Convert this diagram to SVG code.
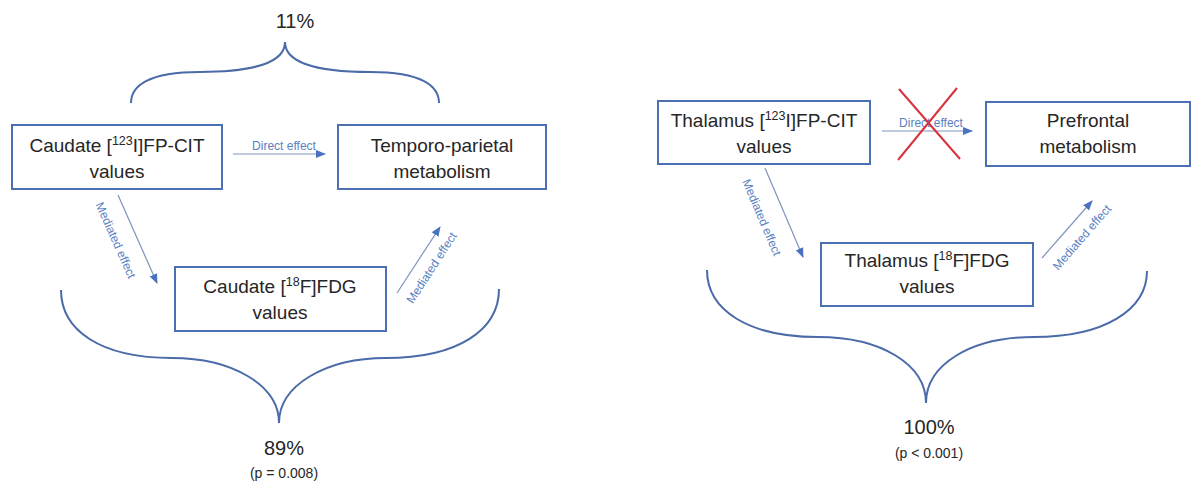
<svg xmlns="http://www.w3.org/2000/svg" width="1197" height="483" viewBox="0 0 1197 483">
<style>
.box{fill:#ffffff;stroke:#4a6fb3;stroke-width:2}
.t{font-family:"Liberation Sans",Arial,sans-serif;font-size:19px;fill:#262626;text-anchor:middle}
.sup{font-size:12.5px}
.pct{font-family:"Liberation Sans",Arial,sans-serif;font-size:20px;fill:#262626;text-anchor:middle}
.p{font-family:"Liberation Sans",Arial,sans-serif;font-size:14px;fill:#262626;text-anchor:middle}
.lbl{font-family:"Liberation Sans",Arial,sans-serif;font-size:12px;fill:#5b7fc2;text-anchor:middle}
.brace{fill:none;stroke:#4a6aa8;stroke-width:2}
.arr{fill:none;stroke:#7d93bd;stroke-width:1.2;marker-end:url(#ah)}
.cross{stroke:#d8323e;stroke-width:2;fill:none}
</style>
<defs>
<marker id="ah" markerUnits="userSpaceOnUse" markerWidth="10" markerHeight="10" viewBox="0 0 10 10" refX="9" refY="5" orient="auto">
<path d="M0,1 L10,5 L0,9 Z" fill="#4a72c0"/>
</marker>
</defs>

<g id="braces">
<path class="brace" d="M131,103 C131,86 148,72 200,72 C255,72 285,62 285,42 C285,62 315,72 370,72 C422,72 439,86 439,103"/>
<path class="brace" d="M61,290 C61,330 100,358 172,358 C232,358 279,385 279,423 C279,385 326,358 386,358 C458,358 499,330 499,289"/>
<path class="brace" d="M707,270 C707,310 748,337 818,337 C882,337 926,365 926,403 C926,365 970,337 1034,337 C1104,337 1147,310 1147,271"/>
</g>

<g id="connectors">
<line class="arr" x1="233" y1="154" x2="325" y2="154"/>
<line class="arr" x1="118" y1="195" x2="157" y2="283"/>
<line class="arr" x1="397" y1="293" x2="440" y2="227"/>
<line class="arr" x1="882" y1="131" x2="972" y2="131"/>
<line class="arr" x1="765" y1="168" x2="803" y2="257"/>
<line class="arr" x1="1042" y1="258" x2="1092" y2="201"/>
<text class="lbl" x="284" y="150">Direct effect</text>
<text class="lbl" transform="translate(112,242) rotate(66)">Mediated effect</text>
<text class="lbl" transform="translate(435,270) rotate(-57)">Mediated effect</text>
<text class="lbl" x="931" y="127">Direct effect</text>
<text class="lbl" transform="translate(758,219) rotate(67)">Mediated effect</text>
<text class="lbl" transform="translate(1085,240) rotate(-49)">Mediated effect</text>
<line class="cross" x1="899" y1="89" x2="960" y2="159"/>
<line class="cross" x1="957" y1="88" x2="898" y2="160"/>
</g>

<g id="caudate-fpcit">
<rect class="box" x="12" y="125" width="210" height="64"/>
<text class="t" x="117" y="152">Caudate [<tspan class="sup" dy="-7">123</tspan><tspan dy="7">I]FP-CIT</tspan></text>
<text class="t" x="117" y="178">values</text>
</g>

<g id="temporo-parietal">
<rect class="box" x="338" y="125" width="208" height="64"/>
<text class="t" x="442" y="152">Temporo-parietal</text>
<text class="t" x="442" y="178">metabolism</text>
</g>

<g id="caudate-fdg">
<rect class="box" x="175" y="267" width="211" height="64"/>
<text class="t" x="280" y="293">Caudate [<tspan class="sup" dy="-7">18</tspan><tspan dy="7">F]FDG</tspan></text>
<text class="t" x="280" y="319">values</text>
</g>

<g id="thalamus-fpcit">
<rect class="box" x="658" y="101" width="212" height="63"/>
<text class="t" x="764" y="127">Thalamus [<tspan class="sup" dy="-7">123</tspan><tspan dy="7">I]FP-CIT</tspan></text>
<text class="t" x="764" y="153">values</text>
</g>

<g id="prefrontal">
<rect class="box" x="986" y="102" width="204" height="64"/>
<text class="t" x="1088" y="127">Prefrontal</text>
<text class="t" x="1088" y="153">metabolism</text>
</g>

<g id="thalamus-fdg">
<rect class="box" x="821" y="243" width="212" height="63"/>
<text class="t" x="927" y="267">Thalamus [<tspan class="sup" dy="-7">18</tspan><tspan dy="7">F]FDG</tspan></text>
<text class="t" x="927" y="293">values</text>
</g>

<g id="percentages">
<text class="pct" x="295" y="28">11%</text>
<text class="pct" x="284" y="455">89%</text>
<text class="p" x="284" y="478">(p = 0.008)</text>
<text class="pct" x="929" y="434">100%</text>
<text class="p" x="929" y="458">(p &lt; 0.001)</text>
</g>
</svg>
